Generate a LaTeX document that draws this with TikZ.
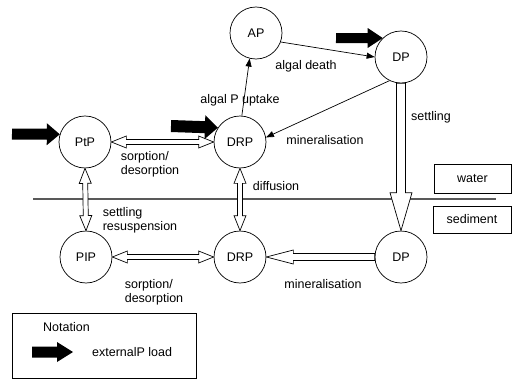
\documentclass[tikz,border=0pt]{standalone}
\usepackage{fontspec}
\setmainfont{Liberation Sans}
\usetikzlibrary{calc,arrows.meta}

% block arrow with one head: style, tail, tip, shaft half-width, head length, head half-width
\newcommand\onewayarrow[6]{%
  \path[#1] ($(#2)!#4!90:(#3)$)
    -- ($($(#3)!#5!(#2)$)!#4!90:(#3)$)
    -- ($($(#3)!#5!(#2)$)!#6!90:(#3)$)
    -- (#3)
    -- ($($(#3)!#5!(#2)$)!#6!-90:(#3)$)
    -- ($($(#3)!#5!(#2)$)!#4!-90:(#3)$)
    -- ($(#2)!#4!-90:(#3)$) -- cycle;}

% hollow block arrow with a head at each end: tip, tip, shaft half-width, head length, head half-width
\newcommand\twowayarrow[5]{%
  \path[hollow] (#1)
    -- ($($(#1)!#4!(#2)$)!#5!90:(#2)$)
    -- ($($(#1)!#4!(#2)$)!#3!90:(#2)$)
    -- ($($(#2)!#4!(#1)$)!#3!90:(#2)$)
    -- ($($(#2)!#4!(#1)$)!#5!90:(#2)$)
    -- (#2)
    -- ($($(#2)!#4!(#1)$)!#5!-90:(#2)$)
    -- ($($(#2)!#4!(#1)$)!#3!-90:(#2)$)
    -- ($($(#1)!#4!(#2)$)!#3!-90:(#2)$)
    -- ($($(#1)!#4!(#2)$)!#5!-90:(#2)$)
    -- cycle;}

\tikzset{
  pool/.style={circle, draw, line width=0.7pt, minimum size=52pt, inner sep=0pt,
    font=\fontsize{12.5}{14}\selectfont},
  lbl/.style={inner sep=0pt, font=\fontsize{12.5}{14}\selectfont, align=left},
  hollow/.style={draw=black, fill=white, line width=0.7pt, line join=miter},
  load/.style={fill=black},
  flow/.style={draw=black, line width=0.7pt, -{Triangle[length=8pt,width=6pt]}},
  layerbox/.style={draw=black, line width=0.8pt},
}

\begin{document}
\begin{tikzpicture}[x=1pt, y=-1pt]
\useasboundingbox (0,0) rectangle (512,380);

% water / sediment interface
\draw[black!65, line width=1.6pt] (33,199) -- (496,199);

% phosphorus pools
\node[pool] (AP)   at (256,33)  {AP};
\node[pool] (DPt)  at (401,57)  {DP};
\node[pool] (PtP)  at (85,142)  {PtP};
\node[pool] (DRPt) at (240,142) {DRP};
\node[pool] (PIP)  at (86,257)  {PIP};
\node[pool] (DRPb) at (240,257) {DRP};
\node[pool] (DPb)  at (401,257) {DP};

% biological fluxes
\draw[flow] (DRPt.86) -- (AP.256);
\draw[flow] (AP.-20) -- (DPt.west);
\draw[flow] (DPt.244) -- (DRPt.10);

% exchange fluxes
\twowayarrow{PtP.east}{DRPt.west}{2.5pt}{15pt}{6pt}
\twowayarrow{PtP.south}{PIP.north}{2.5pt}{15pt}{6pt}
\twowayarrow{DRPt.south}{DRPb.north}{2.5pt}{15pt}{6pt}
\twowayarrow{PIP.east}{DRPb.west}{2.5pt}{15pt}{6pt}
\onewayarrow{hollow}{DPt.south}{DPb.north}{4.5pt}{38pt}{11pt}
\onewayarrow{hollow}{DPb.west}{DRPb.east}{3.5pt}{27pt}{7pt}

% external loads
\coordinate (loadPtP)  at (12,134);
\coordinate (loadDRP)  at (171,126);
\coordinate (loadDP)   at (336,38);
\onewayarrow{load}{loadPtP}{PtP.163}{5.5pt}{13pt}{11pt}
\onewayarrow{load}{loadDRP}{DRPt.147}{6pt}{13pt}{12pt}
\onewayarrow{load}{loadDP}{DPt.134}{5pt}{15pt}{10pt}

% flux labels
\node[lbl] (tUptake) at (240,100) {algal P uptake};
\node[lbl] (tDeath)  at (306,66)  {algal death};
\node[lbl] (tMinT)   at (325,140) {mineralisation};
\node[lbl, anchor=west] (tSettle) at (411,117) {settling};
\node[lbl] (tSorpT)  at (150,164) {sorption/\\desorption};
\node[lbl] (tDiff)   at (276,186) {diffusion};
\node[lbl] (tResus)  at (140,220) {settling\\resuspension};
\node[lbl] (tSorpB)  at (154,292) {sorption/\\desorption};
\node[lbl] (tMinB)   at (323,284) {mineralisation};

% layer tags
\draw[layerbox] (434,164) rectangle (511,193);
\node[lbl] (tWater) at (472.5,178.5) {water};
\draw[layerbox] (433,206) rectangle (511,233);
\node[lbl] (tSed) at (472,219.5) {sediment};

% notation panel
\draw[layerbox] (12,313) rectangle (196,378);
\node[lbl, anchor=west] (tNote) at (43,327) {Notation};
\coordinate (keyTail) at (32,352);
\coordinate (keyTip)  at (73,352);
\onewayarrow{load}{keyTail}{keyTip}{5.5pt}{16pt}{10pt}
\node[lbl, anchor=west] (tKey) at (92,352) {externalP load};
\end{tikzpicture}
\end{document}
